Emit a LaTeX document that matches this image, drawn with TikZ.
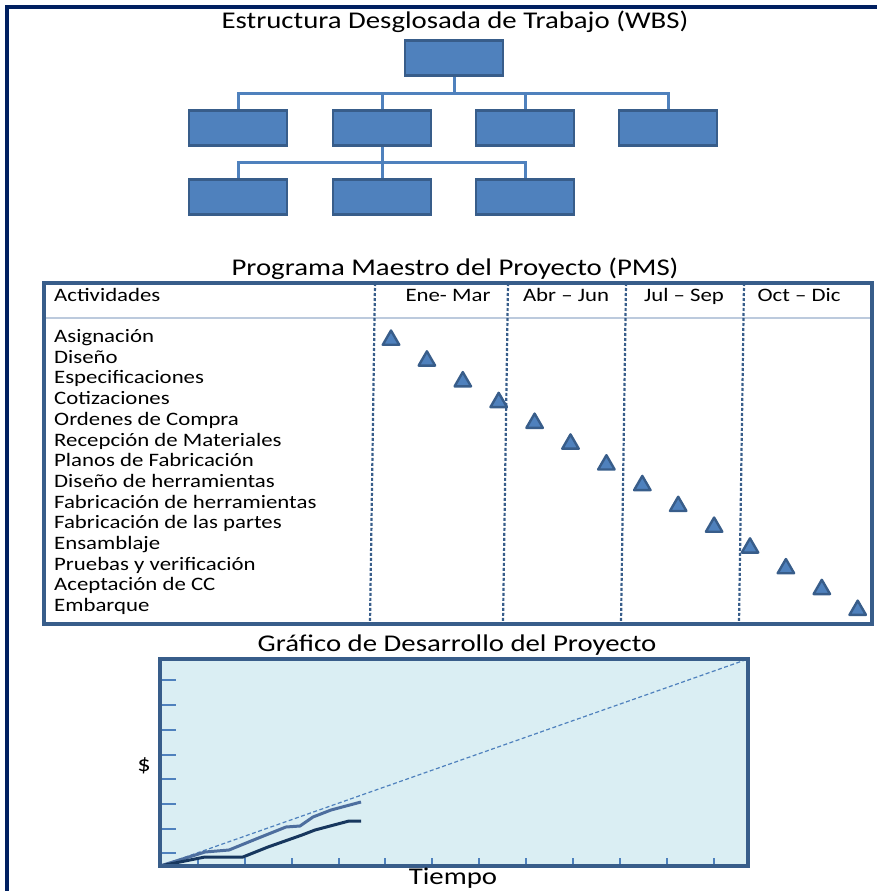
\documentclass[tikz,border=0pt]{standalone}
\usepackage{fontspec}
\setmainfont{Carlito}[FakeStretch=1.2]
\usetikzlibrary{shapes.geometric}

\definecolor{boxblue}{HTML}{4F81BD}
\definecolor{edgeblue}{HTML}{385D8A}
\definecolor{framenavy}{HTML}{002060}
\definecolor{chartbg}{HTML}{DAEEF3}
\definecolor{headgray}{HTML}{BCCADD}
\definecolor{realgray}{HTML}{4D6E9E}
\definecolor{realnavy}{HTML}{17375E}

\begin{document}
\begin{tikzpicture}[x=1pt,y=-1pt,
	wbsbox/.style={draw=edgeblue,fill=boxblue,line width=2.6pt,minimum width=98pt,minimum height=35pt,inner sep=0pt},
	wbsline/.style={draw=boxblue,line width=3pt},
	title/.style={font=\fontsize{24}{28}\selectfont,inner sep=0pt},
	act/.style={font=\fontsize{19}{22}\selectfont,anchor=west,inner sep=0pt,text height=13pt,text depth=4pt},
	mes/.style={font=\fontsize{19}{22}\selectfont,inner sep=0pt,text height=13pt,text depth=4pt},
	hito/.style={regular polygon,regular polygon sides=3,minimum size=19pt,inner sep=0pt,draw=edgeblue,fill=boxblue,line width=2.4pt,line join=round},
	sep/.style={draw=edgeblue,line width=2.2pt,dash pattern=on 3pt off 2pt}]
	\useasboundingbox (0,0) rectangle (877,891);

	% marco
	\draw[framenavy,line width=3.5pt] (7,891) -- (7,7) -- (877,7);

	% WBS
	\node[title] (wbstit) at (455,22) {Estructura Desglosada de Trabajo (WBS)};
	\node[wbsbox] (raiz) at (454,58)  {};
	\node[wbsbox] (n1)   at (238,128) {};
	\node[wbsbox] (n2)   at (382,128) {};
	\node[wbsbox] (n3)   at (525,128) {};
	\node[wbsbox] (n4)   at (668,128) {};
	\node[wbsbox] (n21)  at (238,197) {};
	\node[wbsbox] (n22)  at (382,197) {};
	\node[wbsbox] (n23)  at (525,197) {};

	\coordinate (bus1) at (454,93);
	\coordinate (bus2) at (382,162);
	\draw[wbsline] (raiz.south) -- (bus1);
	\draw[wbsline] (bus1) -| (n1.north);
	\draw[wbsline] (bus1) -| (n2.north);
	\draw[wbsline] (bus1) -| (n3.north);
	\draw[wbsline] (bus1) -| (n4.north);
	\draw[wbsline] (n2.south) -- (bus2);
	\draw[wbsline] (bus2) -| (n21.north);
	\draw[wbsline] (bus2) -| (n22.north);
	\draw[wbsline] (bus2) -| (n23.north);

	% PMS
	\node[title] (pmstit) at (455,269) {Programa Maestro del Proyecto (PMS)};
	\draw[headgray,line width=2.5pt] (44,318) -- (872,318);
	\draw[sep] (375,283) -- (370,624);
	\draw[sep] (508,283) -- (503,624);
	\draw[sep] (626,283) -- (621,624);
	\draw[sep] (744,283) -- (739,624);
	\draw[edgeblue,line width=3.5pt] (44,283) rectangle (872,624);

	\node[act] (h0) at (54,297)  {Actividades};
	\node[mes] (h1) at (448,297) {Ene- Mar};
	\node[mes] (h2) at (566,297) {Abr – Jun};
	\node[mes] (h3) at (684,297) {Jul – Sep};
	\node[mes] (h4) at (799,297) {Oct – Dic};

	\node[act] (a1)  at (54,338.0) {Asignación};
	\node[act] (a2)  at (54,358.7) {Diseño};
	\node[act] (a3)  at (54,379.4) {Especificaciones};
	\node[act] (a4)  at (54,400.1) {Cotizaciones};
	\node[act] (a5)  at (54,420.8) {Ordenes de Compra};
	\node[act] (a6)  at (54,441.5) {Recepción de Materiales};
	\node[act] (a7)  at (54,462.2) {Planos de Fabricación};
	\node[act] (a8)  at (54,482.9) {Diseño de herramientas};
	\node[act] (a9)  at (54,503.6) {Fabricación de herramientas};
	\node[act] (a10) at (54,524.3) {Fabricación de las partes};
	\node[act] (a11) at (54,545.0) {Ensamblaje};
	\node[act] (a12) at (54,565.7) {Pruebas y verificación};
	\node[act] (a13) at (54,586.4) {Aceptación de CC};
	\node[act] (a14) at (54,607.1) {Embarque};

	\node[hito] (t1)  at (391.0,340.0) {};
	\node[hito] (t2)  at (426.9,360.8) {};
	\node[hito] (t3)  at (462.8,381.6) {};
	\node[hito] (t4)  at (498.7,402.3) {};
	\node[hito] (t5)  at (534.6,423.1) {};
	\node[hito] (t6)  at (570.5,443.9) {};
	\node[hito] (t7)  at (606.4,464.7) {};
	\node[hito] (t8)  at (642.3,485.4) {};
	\node[hito] (t9)  at (678.2,506.2) {};
	\node[hito] (t10) at (714.1,527.0) {};
	\node[hito] (t11) at (750.0,547.8) {};
	\node[hito] (t12) at (785.9,568.5) {};
	\node[hito] (t13) at (821.8,589.3) {};
	\node[hito] (t14) at (857.7,610.1) {};

	% grafico
	\node[title] (grtit) at (457,645) {Gráfico de Desarrollo del Proyecto};
	\fill[chartbg] (160,659) rectangle (748,866);
	\draw[boxblue,line width=2.5pt]
		(160,680) -- (176,680) (160,705) -- (176,705) (160,730) -- (176,730)
		(160,755) -- (176,755) (160,779) -- (176,779) (160,804) -- (176,804)
		(160,829) -- (176,829) (160,853) -- (176,853);
	\draw[boxblue,line width=2.5pt]
		(198,866) -- (198,858) (245,866) -- (245,858) (292,866) -- (292,858)
		(339,866) -- (339,858) (385,866) -- (385,858) (432,866) -- (432,858)
		(479,866) -- (479,858) (526,866) -- (526,858) (573,866) -- (573,858)
		(620,866) -- (620,858) (667,866) -- (667,858) (714,866) -- (714,858);
	\draw[boxblue,line width=1.2pt,dash pattern=on 4pt off 2.5pt] (160,866) -- (748,659);
	\draw[realgray,line width=3pt,line join=round]
		(160,866) -- (205,852) -- (229,850) -- (256,839) -- (286,827) -- (300,826)
		-- (313,817) -- (331,810) -- (361,802);
	\draw[realnavy,line width=3pt,line join=round]
		(160,866) -- (205,857) -- (243,857) -- (268,847) -- (302,835) -- (315,830)
		-- (349,821) -- (361,821);
	\draw[edgeblue,line width=3.5pt] (160,659) rectangle (748,866);
	\node[title,font=\fontsize{22}{26}\selectfont] (dolar) at (144,766) {\$};
	\node[title] (tiempo) at (453,878) {Tiempo};
\end{tikzpicture}
\end{document}
